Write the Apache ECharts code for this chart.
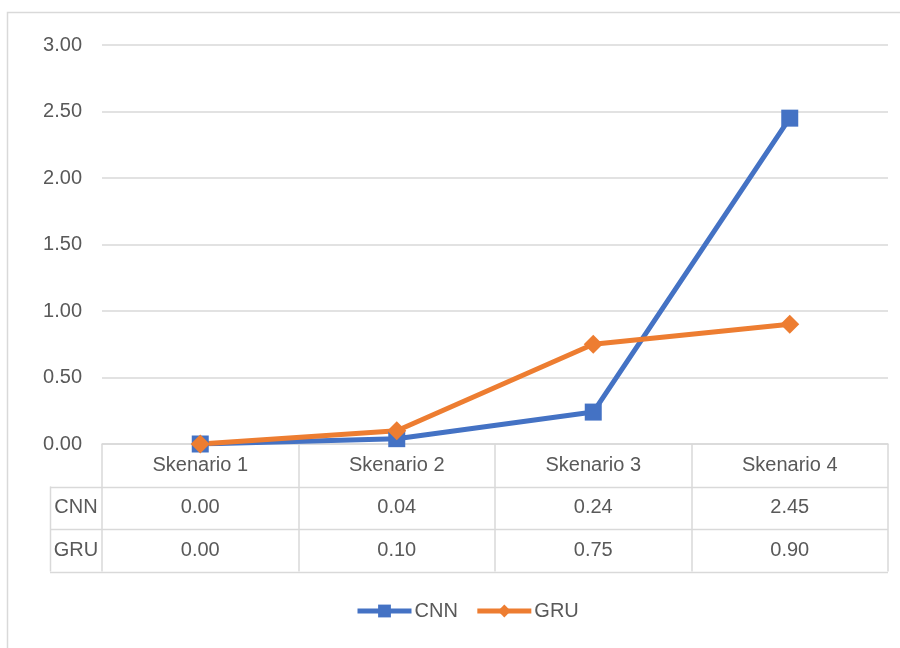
<!DOCTYPE html>
<html>
<head>
<meta charset="utf-8">
<script src="https://cdn.jsdelivr.net/npm/echarts@6/dist/echarts.min.js"></script>
<style>
  html, body { margin: 0; padding: 0; background: #fff; }
  #chart { width: 900px; height: 648px; }
</style>
</head>
<body>
<div id="chart"></div>
<script>
// Scenario categories and per-model values
const categories = ['Skenario 1', 'Skenario 2', 'Skenario 3', 'Skenario 4'];
const cnnValues = [0.00, 0.04, 0.24, 2.45];
const gruValues = [0.00, 0.10, 0.75, 0.90];
const seriesNames = ['CNN', 'GRU'];
const yTicks = { min: 0, max: 3, interval: 0.5 };

const TEXT = '#595959';
const RULE = '#d9d9d9';
const FONT = '"Liberation Sans", Arial, sans-serif';

// Layout of the plot and the data table beneath it
const plot = { left: 102, right: 12, top: 45, bottom: 204 };
const rowH = 42.5;
const tableTop = 648 - plot.bottom;          // y of the category axis
const tableLeft = 50;                         // left edge of the series-name column
const tableRight = 900 - plot.right;

const chart = echarts.init(document.getElementById('chart'), null, { renderer: 'canvas' });

const tableLines = [];
for (let r = 1; r <= 3; r++) {
  const y = Math.round(tableTop + r * rowH) + 0.5;
  tableLines.push({
    type: 'line', silent: true,
    shape: { x1: tableLeft, y1: y, x2: tableRight, y2: y },
    style: { stroke: RULE, lineWidth: 1.5 }
  });
}
tableLines.push({
  type: 'line', silent: true,
  shape: { x1: tableLeft + 0.5, y1: tableTop + rowH, x2: tableLeft + 0.5, y2: tableTop + 3 * rowH },
  style: { stroke: RULE, lineWidth: 1.5 }
});
seriesNames.forEach((name, i) => {
  tableLines.push({
    type: 'text', silent: true,
    x: (tableLeft + plot.left) / 2,
    y: tableTop + (i + 1.5) * rowH,
    style: { text: name, fill: TEXT, font: '20px ' + FONT, align: 'center', verticalAlign: 'middle' }
  });
});

chart.setOption({
  animation: false,
  backgroundColor: '#fff',
  textStyle: { fontFamily: FONT },
  grid: { left: plot.left, right: plot.right, top: plot.top, bottom: plot.bottom, containLabel: false },
  legend: {
    bottom: 22,
    left: 350,
    itemWidth: 54,
    itemHeight: 16,
    itemGap: 17,
    lineStyle: { width: 5 },
    textStyle: { color: TEXT, fontSize: 20, fontFamily: FONT, padding: [0, 0, 0, -2] },
    data: seriesNames
  },
  xAxis: {
    type: 'category',
    data: categories,
    boundaryGap: true,
    axisLine: { show: true, lineStyle: { color: RULE, width: 1.5 } },
    axisTick: { show: true, length: 3 * rowH, interval: 0, lineStyle: { color: RULE, width: 1.5 } },
    axisLabel: {
      interval: 0,
      margin: 0,
      color: TEXT,
      fontSize: 20,
      lineHeight: rowH,
      formatter: (value, idx) =>
        `{c|${value}}\n{v|${cnnValues[idx].toFixed(2)}}\n{v|${gruValues[idx].toFixed(2)}}`,
      rich: {
        c: { fontSize: 20, color: TEXT, lineHeight: rowH, fontFamily: FONT },
        v: { fontSize: 20, color: TEXT, lineHeight: rowH, fontFamily: FONT }
      }
    }
  },
  yAxis: {
    type: 'value',
    min: yTicks.min,
    max: yTicks.max,
    interval: yTicks.interval,
    axisLine: { show: false },
    axisTick: { show: false },
    axisLabel: { color: TEXT, fontSize: 20, margin: 20, formatter: v => v.toFixed(2) },
    splitLine: { lineStyle: { color: RULE, width: 1.5 } }
  },
  series: [
    {
      name: 'CNN',
      type: 'line',
      data: cnnValues,
      symbol: 'rect',
      symbolSize: 17,
      color: '#4472C4',
      lineStyle: { width: 5, color: '#4472C4' },
      itemStyle: { color: '#4472C4' }
    },
    {
      name: 'GRU',
      type: 'line',
      data: gruValues,
      symbol: 'diamond',
      symbolSize: 19,
      color: '#ED7D31',
      lineStyle: { width: 5, color: '#ED7D31' },
      itemStyle: { color: '#ED7D31' }
    }
  ],
  graphic: [
    {
      type: 'rect', silent: true, z: -10,
      shape: { x: 7.5, y: 12.5, width: 1000, height: 1000 },
      style: { fill: 'none', stroke: RULE, lineWidth: 1.5 }
    },
    ...tableLines
  ]
});
</script>
</body>
</html>
